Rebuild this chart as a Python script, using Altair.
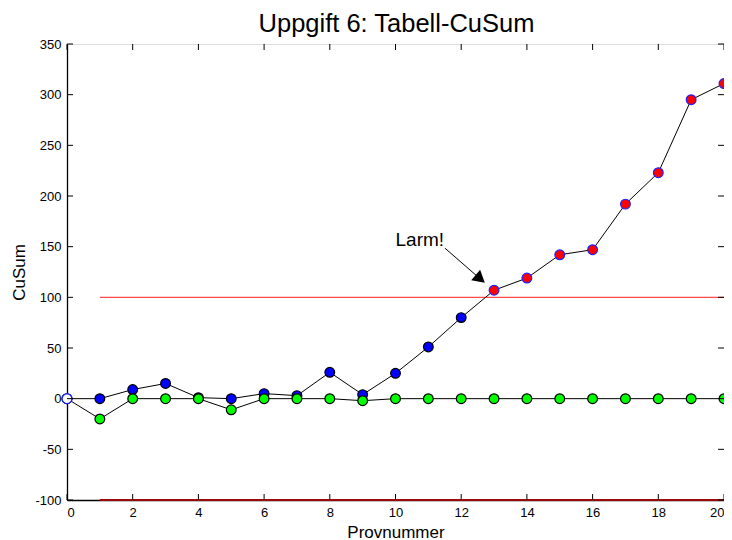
import altair as alt
import pandas as pd

# ---- data ----
x_vals = list(range(0, 21))
upper = [0, 0, 9, 15, 1, 0, 5, 3, 26, 4, 25, 51, 80, 107, 119, 142, 147, 192, 223, 295, 311]
lower = [0, -20, 0, 0, 0, -11, 0, 0, 0, -2, 0, 0, 0, 0, 0, 0, 0, 0, 0, 0, 0]
alarm_from = 13
limit_hi = 100
limit_lo = -100
limit_x = [1, 20]
x_ticks = list(range(0, 21, 2))
y_ticks = list(range(-100, 351, 50))
title_text = "Uppgift 6: Tabell-CuSum"
x_title = "Provnummer"
y_title = "CuSum"
note_text = "Larm!"
note_pos = [10.0, 151]
arrow_tail = [11.51, 148.4]
arrow_head = [12.58, 118.2]

W, H = 657, 456
FONT = "Liberation Sans"
LABEL_EXPR = "datum.value < 0 ? '-' + abs(datum.value) : '' + datum.value"

df_up = pd.DataFrame({
    "x": x_vals,
    "y": upper,
    "fill": ["#ffffff"] + ["#0000ff" if i < alarm_from else "#ff0000" for i in x_vals[1:]],
    "stroke": ["#2020ff"] + ["#000000" if i < alarm_from else "#2020ff" for i in x_vals[1:]],
})
df_lo = pd.DataFrame({"x": x_vals, "y": lower})
df_start = df_up.iloc[[0]]

xs = alt.Scale(domain=[0, 20], nice=False, zero=False)
ys = alt.Scale(domain=[-100, 350], nice=False, zero=False)

X = alt.X("x:Q", scale=xs, axis=alt.Axis(
    values=x_ticks, title=x_title, grid=False, ticks=False, tickSize=0,
    labelFont=FONT, labelFontSize=13, labelColor="#000000", labelPadding=6,
    labelExpr=LABEL_EXPR,
    titleFont=FONT, titleFontSize=17, titleFontWeight="normal", titleColor="#000000",
    titleY=37, titleBaseline="alphabetic",
    domainColor="#000000", domainWidth=1.3))
Y = alt.Y("y:Q", scale=ys, axis=alt.Axis(
    values=y_ticks, title=y_title, grid=False, ticks=False, tickSize=0,
    labelFont=FONT, labelFontSize=13, labelColor="#000000", labelPadding=6,
    labelExpr=LABEL_EXPR,
    titleFont=FONT, titleFontSize=17, titleFontWeight="normal", titleColor="#000000",
    titleX=-43, titleBaseline="alphabetic",
    domainColor="#000000", domainWidth=1.3))

df_hi = pd.DataFrame({"x": [limit_x[0]], "x2": [limit_x[1]], "y": [limit_hi]})
df_lw = pd.DataFrame({"x": [limit_x[0]], "x2": [limit_x[1]], "y": [limit_lo]})

rule_hi = alt.Chart(df_hi).mark_rule(color="#ff4a4a", strokeWidth=1.1).encode(
    x=X, x2="x2:Q", y=Y)
rule_lo = alt.Chart(df_lw).mark_rule(color="#9b0a0a", strokeWidth=2.2).encode(
    x=alt.X("x:Q", scale=xs), x2="x2:Q", y=alt.Y("y:Q", scale=ys))

line_up = alt.Chart(df_up).mark_line(color="#000000", strokeWidth=1).encode(
    x=alt.X("x:Q", scale=xs), y=alt.Y("y:Q", scale=ys))
line_lo = alt.Chart(df_lo).mark_line(color="#000000", strokeWidth=1).encode(
    x=alt.X("x:Q", scale=xs), y=alt.Y("y:Q", scale=ys))

pts_up = alt.Chart(df_up).mark_point(filled=False, size=95, strokeWidth=1.2, opacity=1).encode(
    x=alt.X("x:Q", scale=xs), y=alt.Y("y:Q", scale=ys),
    fill=alt.Fill("fill:N", scale=None), stroke=alt.Stroke("stroke:N", scale=None),
    fillOpacity=alt.value(1), shape=alt.value("circle"))
pts_lo = alt.Chart(df_lo).mark_point(filled=False, size=95, strokeWidth=1.2, opacity=1,
                                     fill="#00ff00", fillOpacity=1, stroke="#000000",
                                     shape="circle").encode(
    x=alt.X("x:Q", scale=xs), y=alt.Y("y:Q", scale=ys))
pts_start = alt.Chart(df_start).mark_point(filled=False, size=95, strokeWidth=1.2, opacity=1,
                                           fill="#ffffff", fillOpacity=1, stroke="#2020ff",
                                           shape="circle").encode(
    x=alt.X("x:Q", scale=xs), y=alt.Y("y:Q", scale=ys))

# inward ticks (MATLAB style box)
df_xt = pd.DataFrame({"x": x_ticks})
df_yt = pd.DataFrame({"y": y_ticks})
tick_b = alt.Chart(df_xt).mark_rule(color="#000000", strokeWidth=1).encode(
    x=alt.X("x:Q", scale=xs), y=alt.value(H), y2=alt.value(H - 6))
tick_t = alt.Chart(df_xt).mark_rule(color="#000000", strokeWidth=1).encode(
    x=alt.X("x:Q", scale=xs), y=alt.value(0), y2=alt.value(6))
tick_l = alt.Chart(df_yt).mark_rule(color="#000000", strokeWidth=1).encode(
    y=alt.Y("y:Q", scale=ys), x=alt.value(0), x2=alt.value(6))
tick_r = alt.Chart(df_yt).mark_rule(color="#000000", strokeWidth=1).encode(
    y=alt.Y("y:Q", scale=ys), x=alt.value(W), x2=alt.value(W - 6))

# annotation
df_note = pd.DataFrame({"x": [note_pos[0]], "y": [note_pos[1]], "t": [note_text]})
note = alt.Chart(df_note).mark_text(align="left", baseline="alphabetic", font=FONT,
                                    fontSize=19, color="#000000").encode(
    x=alt.X("x:Q", scale=xs), y=alt.Y("y:Q", scale=ys), text="t:N")
df_arrow = pd.DataFrame({"x": [arrow_tail[0]], "y": [arrow_tail[1]],
                         "x2": [arrow_head[0]], "y2": [arrow_head[1]]})
arrow_line = alt.Chart(df_arrow).mark_rule(color="#000000", strokeWidth=1).encode(
    x=alt.X("x:Q", scale=xs), y=alt.Y("y:Q", scale=ys), x2="x2:Q", y2="y2:Q")
df_ah = pd.DataFrame({"x": [arrow_head[0]], "y": [arrow_head[1]]})
arrow_tip = alt.Chart(df_ah).mark_point(shape="triangle-up", filled=True, size=190,
                                        angle=130, color="#000000", opacity=1).encode(
    x=alt.X("x:Q", scale=xs), y=alt.Y("y:Q", scale=ys))

# chart title as a text mark above the plot area
df_title = pd.DataFrame({"t": [title_text]})
title = alt.Chart(df_title).mark_text(align="center", baseline="alphabetic", font=FONT,
                                      fontSize=25.5, color="#000000").encode(
    x=alt.value(W / 2 + 1), y=alt.value(-12), text="t:N")

chart = alt.layer(
    rule_hi, rule_lo, line_up, line_lo, pts_up, pts_lo, pts_start,
    tick_b, tick_t, tick_l, tick_r, arrow_line, arrow_tip, note, title
).properties(
    width=W, height=H,
    autosize=alt.AutoSizeParams(type="none"),
    padding={"left": 59, "top": 36, "right": 0, "bottom": 40},
).configure_view(stroke="#000000", strokeWidth=1).configure(background="#ffffff")

chart.save("out.html", embed_options={"renderer": "svg", "actions": False})
